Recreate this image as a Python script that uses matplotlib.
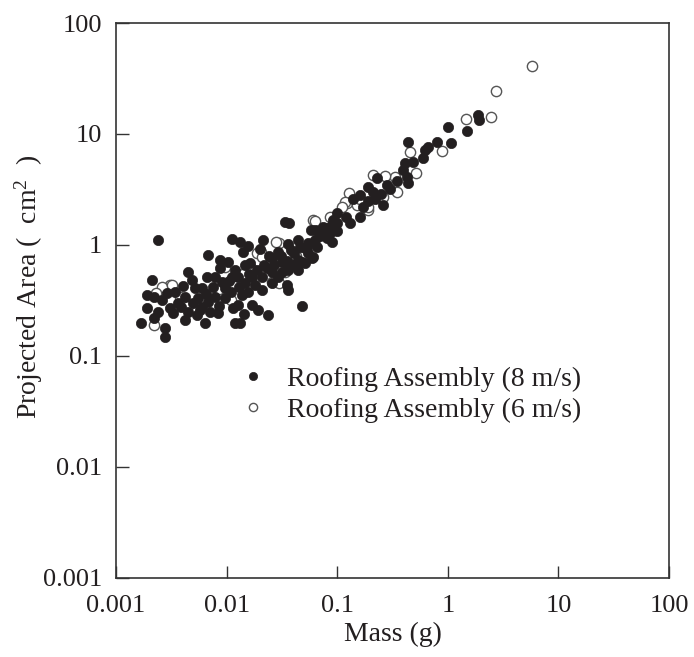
import numpy as np
import matplotlib.pyplot as plt

plt.rcParams['font.family'] = ['Liberation Serif', 'DejaVu Serif']
plt.rcParams['mathtext.fontset'] = 'custom'
plt.rcParams['mathtext.rm'] = 'Liberation Serif'
plt.rcParams['mathtext.it'] = 'Liberation Serif'

# roofing assembly, 8 m/s (filled)
mass_8 = [1.88, 1.93, 1.0, 1.48, 0.44, 0.8, 1.07, 0.66, 0.62, 0.60, 0.48, 0.41, 0.39,
          0.43, 0.44, 0.28, 0.23, 0.19, 0.21, 0.16, 0.14, 0.19, 0.25, 0.26, 0.16, 0.13,
          0.10, 0.092, 0.081, 0.072, 0.081, 0.10, 0.053, 0.051, 0.06, 0.063, 0.074,
          0.086, 0.10, 0.058, 0.054, 0.063, 0.044, 0.038, 0.036, 0.0337, 0.037,
          0.3, 0.35, 0.22, 0.17, 0.12, 0.09, 0.07, 0.065,
          0.0024, 0.0112, 0.0132, 0.0213, 0.0141, 0.0068, 0.0087, 0.0103, 0.0087,
          0.0146, 0.0162, 0.0257, 0.029, 0.036, 0.044, 0.051, 0.059, 0.077, 0.089,
          0.048, 0.039, 0.032, 0.026, 0.021, 0.017, 0.0146, 0.0127, 0.0112, 0.0119,
          0.0097, 0.0079, 0.0066, 0.006, 0.0045, 0.0049, 0.0052, 0.0042, 0.0034,
          0.0029, 0.0021, 0.0019, 0.0022, 0.0019, 0.0017, 0.0022, 0.0028, 0.0028,
          0.0033, 0.0039, 0.0045, 0.0042, 0.0054, 0.006, 0.0071, 0.0084, 0.0068,
          0.0079, 0.0097, 0.011, 0.0138, 0.0155, 0.018, 0.021, 0.0127, 0.017, 0.0192,
          0.0237, 0.0119, 0.0132, 0.0257, 0.029, 0.035, 0.036, 0.048, 0.032, 0.022,
          0.005, 0.0065, 0.0075, 0.009, 0.0105, 0.013, 0.016, 0.019, 0.023, 0.027,
          0.031, 0.041, 0.046, 0.035, 0.024, 0.02, 0.0155, 0.004, 0.0036, 0.0031,
          0.0026, 0.0024, 0.0057, 0.0064, 0.0115, 0.0145, 0.0055, 0.0085, 0.044, 0.055]
area_8 = [14.8, 13.4, 11.6, 10.6, 8.5, 8.5, 8.3, 7.6, 7.2, 6.1, 5.6, 5.5, 4.7,
          4.1, 3.6, 3.5, 4.0, 3.3, 3.0, 2.8, 2.6, 2.5, 2.9, 2.3, 1.79, 1.58,
          1.94, 1.67, 1.42, 1.35, 1.16, 1.35, 0.96, 0.69, 0.78, 1.37, 1.45,
          1.29, 1.58, 1.37, 1.04, 1.1, 0.73, 0.9, 0.6, 1.61, 1.57,
          3.2, 3.8, 2.6, 2.2, 1.8, 1.5, 1.2, 0.95,
          1.11, 1.13, 1.06, 1.1, 0.865, 0.81, 0.73, 0.71, 0.62,
          0.66, 0.69, 0.76, 0.87, 1.03, 1.12, 0.94, 0.76, 1.22, 1.06,
          0.71, 0.66, 0.57, 0.57, 0.52, 0.51, 0.45, 0.51, 0.52, 0.60,
          0.41, 0.51, 0.52, 0.41, 0.57, 0.48, 0.41, 0.34, 0.38,
          0.37, 0.48, 0.355, 0.34, 0.27, 0.2, 0.22, 0.18, 0.148,
          0.244, 0.276, 0.25, 0.21, 0.234, 0.276, 0.25, 0.244, 0.306,
          0.34, 0.33, 0.38, 0.355, 0.38, 0.436, 0.39, 0.29, 0.29, 0.26,
          0.234, 0.2, 0.198, 0.45, 0.51, 0.436, 0.39, 0.28, 0.71, 0.66,
          0.3, 0.36, 0.42, 0.46, 0.47, 0.42, 0.55, 0.6, 0.62, 0.66,
          0.8, 0.85, 0.95, 0.72, 0.8, 0.92, 0.98, 0.43, 0.3, 0.27,
          0.32, 0.25, 0.26, 0.2, 0.27, 0.24, 0.33, 0.28, 0.59, 0.85]

# roofing assembly, 6 m/s (open)
mass_6 = [5.77, 2.73, 2.46, 1.46, 0.455, 0.89, 0.52, 0.33, 0.21, 0.27, 0.128, 0.123,
          0.19, 0.15, 0.086, 0.26, 0.06, 0.117, 0.19, 0.11, 0.063, 0.030, 0.0205,
          0.034, 0.026, 0.0097, 0.0026, 0.0031, 0.0022, 0.0045, 0.0026, 0.0032,
          0.0038, 0.0061, 0.0097, 0.0188, 0.021, 0.028, 0.030, 0.011, 0.0023, 0.007,
          0.0085, 0.014, 0.0165, 0.042, 0.07, 0.16, 0.35]
area_6 = [41, 24.4, 14.2, 13.6, 6.9, 7.0, 4.45, 4.1, 4.3, 4.2, 2.94, 2.39,
          2.07, 2.3, 1.79, 2.7, 1.67, 2.45, 2.2, 2.2, 1.66, 1.05, 0.87,
          0.57, 0.46, 0.63, 0.4, 0.44, 0.19, 0.28, 0.42, 0.436,
          0.34, 0.32, 0.39, 0.85, 0.78, 1.06, 0.45, 0.32, 0.37, 0.36,
          0.4, 0.55, 0.62, 0.8, 1.3, 2.6, 3.0]

ticks = [0.001, 0.01, 0.1, 1, 10, 100]
tick_labels = ['0.001', '0.01', '0.1', '1', '10', '100']

fig = plt.figure(figsize=(6.94, 6.57), dpi=100)
ax = fig.add_axes([116/694, 79/657, 553/694, 555/657])

ax.plot(mass_6, area_6, 'o', ms=7.4, mfc='white', mec='#555555', mew=1.0,
        label='Roofing Assembly (6 m/s)')
ax.plot(mass_8, area_8, 'o', ms=7.4, mfc='#231f20', mec='#231f20', mew=0.5,
        label='Roofing Assembly (8 m/s)')

ax.set_xscale('log')
ax.set_yscale('log')
ax.set_xlim(0.001, 100)
ax.set_ylim(0.001, 100)
ax.set_xticks(ticks)
ax.set_xticklabels(tick_labels)
ax.set_yticks(ticks)
ax.set_yticklabels(tick_labels)
ax.minorticks_off()
ax.tick_params(direction='in', length=9, width=1, color='#333333', labelsize=19,
               labelcolor='#231f20')
ax.tick_params(axis='x', pad=12)
ax.tick_params(axis='y', pad=10)
for s in ax.spines.values():
    s.set_color('#333333')
    s.set_linewidth(1.2)

ax.set_xlabel('Mass (g)', fontsize=20, color='#231f20', labelpad=4)
ax.set_ylabel('Projected Area (  cm$^2$  )', fontsize=20, color='#231f20')
ax.yaxis.set_label_coords(-0.128, 0.525)

h, l = ax.get_legend_handles_labels()
ax.legend(h[::-1], l[::-1], loc='center left', bbox_to_anchor=(0.173, 0.33),
          frameon=False, fontsize=20, markerscale=0.8, handletextpad=0.6,
          labelspacing=0.2, handlelength=1.2, labelcolor='#231f20')

fig.savefig('out.png', dpi=100)
